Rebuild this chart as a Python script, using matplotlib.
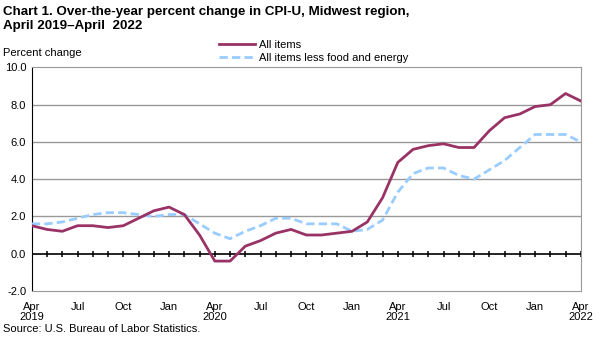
import numpy as np
import matplotlib.pyplot as plt

plt.rcParams['font.family'] = ['Liberation Sans', 'DejaVu Sans']

# monthly, April 2019 .. April 2022
all_items = [1.5, 1.3, 1.2, 1.5, 1.5, 1.4, 1.5, 1.9, 2.3, 2.5, 2.1, 1.0,
             -0.4, -0.4, 0.4, 0.7, 1.1, 1.3, 1.0, 1.0, 1.1, 1.2, 1.7, 3.0,
             4.9, 5.6, 5.8, 5.9, 5.7, 5.7, 6.6, 7.3, 7.5, 7.9, 8.0, 8.6, 8.2]
core = [1.6, 1.6, 1.7, 1.9, 2.1, 2.2, 2.2, 2.1, 2.0, 2.1, 2.1, 1.6,
        1.1, 0.8, 1.2, 1.5, 1.9, 1.9, 1.6, 1.6, 1.6, 1.2, 1.3, 1.8,
        3.3, 4.3, 4.6, 4.6, 4.2, 4.0, 4.5, 5.0, 5.7, 6.4, 6.4, 6.4, 6.0]
tick_labels = ['Apr\n2019', 'Jul', 'Oct', 'Jan', 'Apr\n2020', 'Jul', 'Oct', 'Jan',
               'Apr\n2021', 'Jul', 'Oct', 'Jan', 'Apr\n2022']
yticks = [-2, 0, 2, 4, 6, 8, 10]

x = np.arange(len(all_items))

fig = plt.figure(figsize=(6, 3.39), dpi=100)
ax = fig.add_axes([0.053, 0.142, 0.915, 0.659])

for v in [2, 4, 6, 8]:
    ax.axhline(v, color='#999999', lw=1, zorder=1)
ax.axhline(0, color='black', lw=1.2, zorder=2)
ax.plot(x[1:], np.zeros(len(x) - 1), ls='none', marker='|', color='black',
        ms=4.5, mew=1.1, zorder=2)

ax.plot(x, core, color='#99CCFF', lw=2, ls=(0, (3, 1.5)), zorder=3,
        label='All items less food and energy')
ax.plot(x, all_items, color='#993366', lw=2, zorder=4, label='All items')

ax.set_xlim(0, len(x) - 1)
ax.set_ylim(-2, 10)
ax.set_yticks(yticks)
ax.set_yticklabels(['%.1f' % v for v in yticks], fontsize=8)
ax.set_xticks(x[::3])
ax.set_xticklabels(tick_labels, fontsize=8, linespacing=1.0)
ax.tick_params(axis='x', length=0, pad=8)
ax.tick_params(axis='y', length=0, pad=4)

for s in ['top', 'right', 'bottom']:
    ax.spines[s].set_color('#999999')
ax.spines['left'].set_color('black')

h, l = ax.get_legend_handles_labels()
fig.legend([h[1], h[0]], [l[1], l[0]], loc='upper left',
           bbox_to_anchor=(0.358, 0.895), frameon=False, fontsize=8,
           handlelength=3.2, handletextpad=0.4, labelspacing=0.3,
           borderaxespad=0)

fig.text(0.005, 0.982, 'Chart 1. Over-the-year percent change in CPI-U, Midwest region,\nApril 2019\u2013April  2022',
         fontsize=9.6, fontweight='bold', va='top', linespacing=1.25)
fig.text(0.005, 0.845, 'Percent change', fontsize=8, va='center')
fig.text(0.005, 0.03, 'Source: U.S. Bureau of Labor Statistics.', fontsize=8, va='center')

fig.savefig('out.png', dpi=100)
